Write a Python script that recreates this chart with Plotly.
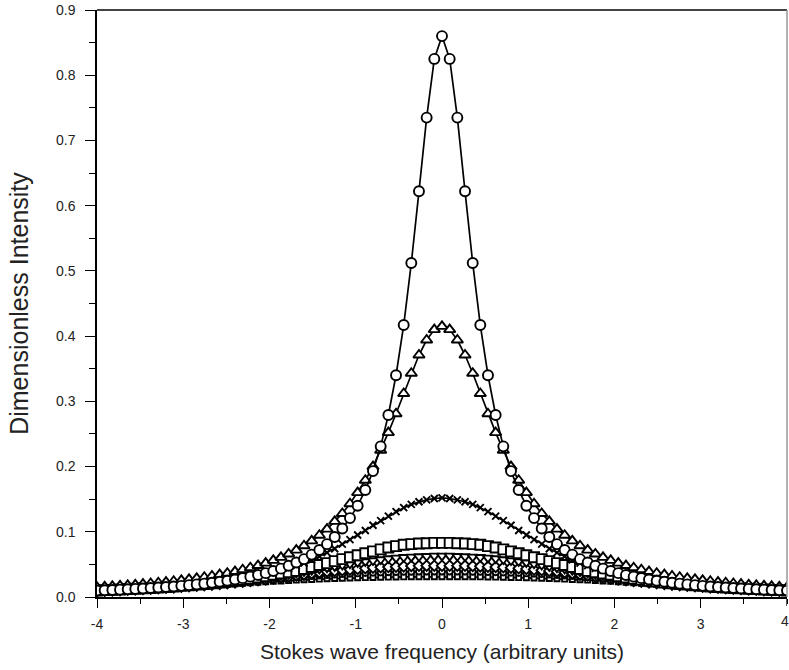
import plotly.graph_objects as go

# Stokes wave frequency grid (arbitrary units)
x_freq = [-4.0, -3.911, -3.822, -3.733, -3.644, -3.556, -3.467, -3.378, -3.289, -3.2,
          -3.111, -3.022, -2.933, -2.844, -2.756, -2.667, -2.578, -2.489, -2.4, -2.311,
          -2.222, -2.133, -2.044, -1.956, -1.867, -1.778, -1.689, -1.6, -1.511, -1.422,
          -1.333, -1.244, -1.156, -1.067, -0.978, -0.889, -0.8, -0.711, -0.622, -0.533,
          -0.444, -0.356, -0.267, -0.178, -0.089,
          0.0,
          0.089, 0.178, 0.267, 0.356, 0.444, 0.533, 0.622, 0.711, 0.8, 0.889,
          0.978, 1.067, 1.156, 1.244, 1.333, 1.422, 1.511, 1.6, 1.689, 1.778,
          1.867, 1.956, 2.044, 2.133, 2.222, 2.311, 2.4, 2.489, 2.578, 2.667,
          2.756, 2.844, 2.933, 3.022, 3.111, 3.2, 3.289, 3.378, 3.467, 3.556,
          3.644, 3.733, 3.822, 3.911, 4.0]

circles = [0.0099, 0.0103, 0.0108, 0.0113, 0.0119, 0.0124, 0.0131, 0.0138, 0.0145, 0.0153,
           0.0162, 0.0171, 0.0182, 0.0193, 0.0205, 0.0219, 0.0234, 0.025, 0.0269, 0.0289,
           0.0312, 0.0338, 0.0366, 0.0398, 0.0435, 0.048, 0.053, 0.058, 0.065, 0.072,
           0.081, 0.092, 0.105, 0.121, 0.140, 0.164, 0.193, 0.231, 0.279, 0.340,
           0.417, 0.512, 0.622, 0.735, 0.825,
           0.860,
           0.825, 0.735, 0.622, 0.512, 0.417, 0.340, 0.279, 0.231, 0.193, 0.164,
           0.140, 0.121, 0.105, 0.092, 0.081, 0.072, 0.065, 0.058, 0.053, 0.048,
           0.0435, 0.0398, 0.0366, 0.0338, 0.0312, 0.0289, 0.0269, 0.025, 0.0234, 0.0219,
           0.0205, 0.0193, 0.0182, 0.0171, 0.0162, 0.0153, 0.0145, 0.0138, 0.0131, 0.0124,
           0.0119, 0.0113, 0.0108, 0.0103, 0.0099]

triangles_up = [0.015, 0.0156, 0.0163, 0.0171, 0.0179, 0.0187, 0.0197, 0.0207, 0.0218, 0.0229,
                0.0242, 0.0255, 0.027, 0.0286, 0.0303, 0.0322, 0.0343, 0.0365, 0.039, 0.0418,
                0.0448, 0.0482, 0.052, 0.0561, 0.0608, 0.066, 0.0719, 0.0786, 0.0861, 0.0947,
                0.104, 0.116, 0.128, 0.143, 0.160, 0.179, 0.200, 0.225, 0.252, 0.281,
                0.312, 0.343, 0.371, 0.394, 0.410,
                0.415,
                0.410, 0.394, 0.371, 0.343, 0.312, 0.281, 0.252, 0.225, 0.200, 0.179,
                0.160, 0.143, 0.128, 0.116, 0.104, 0.0947, 0.0861, 0.0786, 0.0719, 0.066,
                0.0608, 0.0561, 0.052, 0.0482, 0.0448, 0.0418, 0.039, 0.0365, 0.0343, 0.0322,
                0.0303, 0.0286, 0.027, 0.0255, 0.0242, 0.0229, 0.0218, 0.0207, 0.0197, 0.0187,
                0.0179, 0.0171, 0.0163, 0.0156, 0.015]

crosses = [0.0115, 0.012, 0.0125, 0.013, 0.0136, 0.0142, 0.0148, 0.0155, 0.0162, 0.017,
           0.018, 0.019, 0.020, 0.021, 0.022, 0.023, 0.0245, 0.026, 0.0275, 0.029,
           0.031, 0.033, 0.0355, 0.038, 0.041, 0.044, 0.048, 0.052, 0.057, 0.062,
           0.068, 0.074, 0.081, 0.088, 0.095, 0.102, 0.110, 0.117, 0.124, 0.131,
           0.137, 0.142, 0.146, 0.149, 0.151,
           0.152,
           0.151, 0.149, 0.146, 0.142, 0.137, 0.131, 0.124, 0.117, 0.110, 0.102,
           0.095, 0.088, 0.081, 0.074, 0.068, 0.062, 0.057, 0.052, 0.048, 0.044,
           0.041, 0.038, 0.0355, 0.033, 0.031, 0.029, 0.0275, 0.026, 0.0245, 0.023,
           0.022, 0.021, 0.020, 0.019, 0.018, 0.017, 0.0162, 0.0155, 0.0148, 0.0142,
           0.0136, 0.013, 0.0125, 0.012, 0.0115]

squares = [0.010, 0.0105, 0.011, 0.0115, 0.012, 0.0126, 0.0132, 0.0138, 0.0145, 0.0152,
           0.016, 0.017, 0.018, 0.019, 0.020, 0.021, 0.022, 0.0235, 0.025, 0.0265,
           0.028, 0.030, 0.032, 0.034, 0.036, 0.038, 0.040, 0.043, 0.046, 0.049,
           0.052, 0.055, 0.058, 0.061, 0.064, 0.067, 0.070, 0.073, 0.076, 0.078,
           0.080, 0.081, 0.082, 0.0825, 0.083,
           0.083,
           0.083, 0.0825, 0.082, 0.081, 0.080, 0.078, 0.076, 0.073, 0.070, 0.067,
           0.064, 0.061, 0.058, 0.055, 0.052, 0.049, 0.046, 0.043, 0.040, 0.038,
           0.036, 0.034, 0.032, 0.030, 0.028, 0.0265, 0.025, 0.0235, 0.022, 0.021,
           0.020, 0.019, 0.018, 0.017, 0.016, 0.0152, 0.0145, 0.0138, 0.0132, 0.0126,
           0.012, 0.0115, 0.011, 0.0105, 0.010]

triangles_down = [0.0098, 0.0102, 0.0107, 0.0112, 0.0117, 0.0122, 0.0128, 0.0134, 0.014, 0.0146,
                  0.0153, 0.016, 0.017, 0.018, 0.019, 0.020, 0.021, 0.022, 0.0235, 0.025,
                  0.0265, 0.028, 0.0295, 0.031, 0.033, 0.035, 0.037, 0.039, 0.041, 0.043,
                  0.045, 0.047, 0.049, 0.051, 0.053, 0.0545, 0.056, 0.0575, 0.059, 0.060,
                  0.061, 0.0615, 0.062, 0.0625, 0.063,
                  0.063,
                  0.063, 0.0625, 0.062, 0.0615, 0.061, 0.060, 0.059, 0.0575, 0.056, 0.0545,
                  0.053, 0.051, 0.049, 0.047, 0.045, 0.043, 0.041, 0.039, 0.037, 0.035,
                  0.033, 0.031, 0.0295, 0.028, 0.0265, 0.025, 0.0235, 0.022, 0.021, 0.020,
                  0.019, 0.018, 0.017, 0.016, 0.0153, 0.0146, 0.014, 0.0134, 0.0128, 0.0122,
                  0.0117, 0.0112, 0.0107, 0.0102, 0.0098]

diamonds = [0.0092, 0.0096, 0.010, 0.0105, 0.011, 0.0116, 0.0122, 0.0128, 0.0134, 0.0141,
            0.0148, 0.0156, 0.0164, 0.0172, 0.018, 0.019, 0.020, 0.021, 0.0222, 0.0233,
            0.0245, 0.0258, 0.027, 0.0285, 0.030, 0.0315, 0.033, 0.0345, 0.036, 0.0375,
            0.039, 0.040, 0.041, 0.042, 0.043, 0.044, 0.045, 0.0455, 0.046, 0.0465,
            0.047, 0.0475, 0.0478, 0.048, 0.048,
            0.048,
            0.048, 0.048, 0.0478, 0.0475, 0.047, 0.0465, 0.046, 0.0455, 0.045, 0.044,
            0.043, 0.042, 0.041, 0.040, 0.039, 0.0375, 0.036, 0.0345, 0.033, 0.0315,
            0.030, 0.0285, 0.027, 0.0258, 0.0245, 0.0233, 0.0222, 0.021, 0.020, 0.019,
            0.018, 0.0172, 0.0164, 0.0156, 0.0148, 0.0141, 0.0134, 0.0128, 0.0122, 0.0116,
            0.011, 0.0105, 0.010, 0.0096, 0.0092]

small_circles = [0.009, 0.0094, 0.0099, 0.0104, 0.011, 0.0116, 0.0122, 0.0129, 0.0136, 0.0143,
                 0.0151, 0.0159, 0.0167, 0.0176, 0.0185, 0.0194, 0.0203, 0.0213, 0.0223, 0.0233,
                 0.0243, 0.0253, 0.0263, 0.0273, 0.0283, 0.0293, 0.0302, 0.0311, 0.032, 0.0328,
                 0.0336, 0.0343, 0.035, 0.0356, 0.0362, 0.0367, 0.0372, 0.0376, 0.038, 0.0383,
                 0.0386, 0.0388, 0.039, 0.039, 0.039,
                 0.039,
                 0.039, 0.039, 0.039, 0.0388, 0.0386, 0.0383, 0.038, 0.0376, 0.0372, 0.0367,
                 0.0362, 0.0356, 0.035, 0.0343, 0.0336, 0.0328, 0.032, 0.0311, 0.0302, 0.0293,
                 0.0283, 0.0273, 0.0263, 0.0253, 0.0243, 0.0233, 0.0223, 0.0213, 0.0203, 0.0194,
                 0.0185, 0.0176, 0.0167, 0.0159, 0.0151, 0.0143, 0.0136, 0.0129, 0.0122, 0.0116,
                 0.011, 0.0104, 0.0099, 0.0094, 0.009]

small_squares = [0.0086, 0.0092, 0.0098, 0.0104, 0.011, 0.0116, 0.0122, 0.0128, 0.0134, 0.0141,
                 0.0147, 0.0154, 0.0161, 0.0168, 0.0175, 0.0182, 0.0189, 0.0196, 0.0204, 0.0211,
                 0.0218, 0.0225, 0.0232, 0.0239, 0.0246, 0.0252, 0.0258, 0.0264, 0.0269, 0.0274,
                 0.0279, 0.0283, 0.0287, 0.0291, 0.0294, 0.0297, 0.030, 0.0302, 0.0304, 0.0306,
                 0.0308, 0.031, 0.031, 0.031, 0.031,
                 0.031,
                 0.031, 0.031, 0.031, 0.031, 0.0308, 0.0306, 0.0304, 0.0302, 0.030, 0.0297,
                 0.0294, 0.0291, 0.0287, 0.0283, 0.0279, 0.0274, 0.0269, 0.0264, 0.0258, 0.0252,
                 0.0246, 0.0239, 0.0232, 0.0225, 0.0218, 0.0211, 0.0204, 0.0196, 0.0189, 0.0182,
                 0.0175, 0.0168, 0.0161, 0.0154, 0.0147, 0.0141, 0.0134, 0.0128, 0.0122, 0.0116,
                 0.011, 0.0104, 0.0098, 0.0092, 0.0086]

x_tick_vals = [-4, -3, -2, -1, 0, 1, 2, 3, 4]
x_tick_text = ["-4", "-3", "-2", "-1", "0", "1", "2", "3", "4"]

series = [
    ("small squares", small_squares, dict(symbol="square", size=5)),
    ("small circles", small_circles, dict(symbol="circle", size=6)),
    ("diamonds", diamonds, dict(symbol="diamond", size=8)),
    ("triangles down", triangles_down, dict(symbol="triangle-down", size=9)),
    ("squares", squares, dict(symbol="square", size=10)),
    ("crosses", crosses, dict(symbol="x-thin", size=7)),
    ("triangles up", triangles_up, dict(symbol="triangle-up", size=10)),
    ("circles", circles, dict(symbol="circle", size=10)),
]

for name, ys, _ in series:
    assert len(ys) == len(x_freq), (name, len(ys))

fig = go.Figure()
for name, ys, mk in series:
    fig.add_trace(go.Scatter(
        x=x_freq, y=ys, mode="lines+markers", name=name,
        line=dict(color="black", width=1.7),
        marker=dict(symbol=mk["symbol"], size=mk["size"], color="white",
                    line=dict(color="black", width=1.9)),
    ))

font_family = "Liberation Sans, Arial, Helvetica, sans-serif"
tick_font = dict(size=14, family=font_family, color="#222")

fig.update_layout(
    width=789, height=670,
    margin=dict(l=97, r=2, t=10, b=73),
    paper_bgcolor="white", plot_bgcolor="white",
    showlegend=False,
    font=dict(family=font_family, color="#222"),
)

fig.update_xaxes(
    range=[-4, 4], tickmode="array", tickvals=x_tick_vals[:-1], ticktext=x_tick_text[:-1],
    showgrid=False, zeroline=False,
    showline=True, linecolor="black", linewidth=1.5,
    ticks="outside", ticklen=9, tickwidth=1.3, tickcolor="black",
    minor=dict(dtick=0.5, tick0=0, ticks="outside", ticklen=5, tickwidth=1.3,
               tickcolor="black", showgrid=False),
    tickfont=tick_font,
    ticklabelstandoff=4,
    title=dict(text="Stokes wave frequency (arbitrary units)",
               font=dict(size=21, family=font_family, color="#222"), standoff=14),
)
fig.update_yaxes(
    range=[0, 0.9], dtick=0.1, tick0=0, tickformat=".1f",
    showgrid=False, zeroline=False,
    showline=True, linecolor="black", linewidth=1.5,
    ticks="outside", ticklen=10, tickwidth=1.3, tickcolor="black",
    minor=dict(dtick=0.05, ticks="outside", ticklen=6, tickwidth=1.3, tickcolor="black", showgrid=False),
    tickfont=tick_font,
    ticklabelstandoff=7,
    title=dict(text="Dimensionless Intensity",
               font=dict(size=25, family=font_family, color="#222"), standoff=20),
)

# last x tick label, kept just inside the page's right edge
fig.add_annotation(x=x_tick_vals[-1], xref="x", y=0, yref="paper", yshift=-14, xshift=-2,
                   text=x_tick_text[-1], showarrow=False, yanchor="top", xanchor="center",
                   font=tick_font)
# tick mark at x = 4
fig.add_shape(type="line", xref="x", yref="paper", x0=4, x1=4, y0=0, y1=-9 / 587,
              line=dict(color="black", width=1.3))

# top and right frame lines
fig.add_shape(type="line", xref="paper", yref="paper", x0=0, x1=1, y0=1, y1=1,
              line=dict(color="#444", width=2))
fig.add_shape(type="line", xref="paper", yref="paper", x0=1, x1=1, y0=0, y1=1,
              line=dict(color="#999", width=1.5))

fig.write_html("out.html")
